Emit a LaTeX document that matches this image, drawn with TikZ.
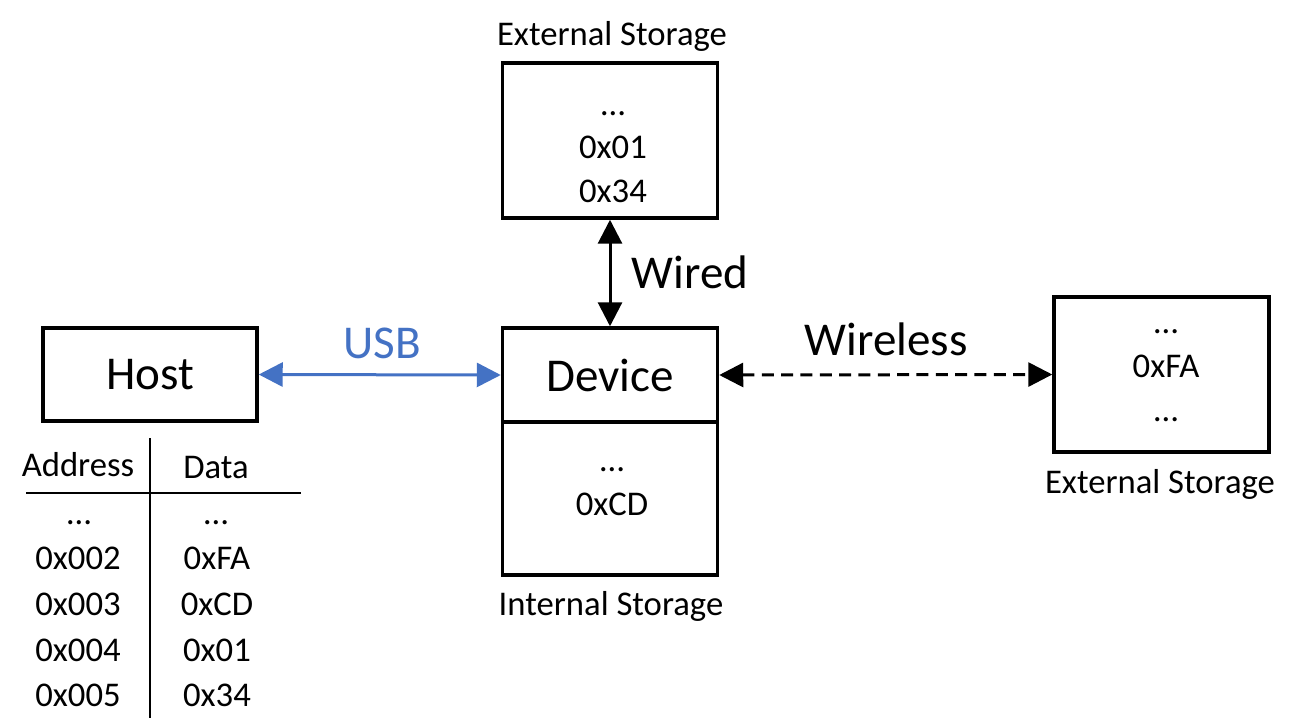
\documentclass[tikz,border=0pt]{standalone}
\usepackage{fontspec}
\setmainfont{Carlito}
\usetikzlibrary{arrows.meta}
\definecolor{usbblue}{HTML}{4472C4}
\begin{document}
\begin{tikzpicture}[x=0.75pt,y=-0.75pt,
  box/.style={draw, line width=2.6pt, inner sep=0pt, minimum width=161.25pt},
  big/.style={font=\fontsize{35.3pt}{42pt}\selectfont},
  small/.style={font=\fontsize{26pt}{31pt}\selectfont, inner sep=0pt, anchor=base},
  conn/.style={line width=2.25pt, {Triangle[length=18pt,width=18pt]}-{Triangle[length=18pt,width=18pt]}},
  tab/.style={line width=1.5pt}]
\useasboundingbox (0,0) rectangle (1306,718);

% boxes
\node[box, big, minimum width=160.5pt, minimum height=69.75pt] (host) at (150,374.5) {Host};
\node[box, big, minimum height=70.5pt] (dev) at (610,375) {Device};
\node[box, minimum height=114.75pt] (int) at (610,498.5) {};
\node[box, minimum height=116.25pt] (ext1) at (610,140.5) {};
\node[box, minimum height=116.25pt] (ext2) at (1161.5,374.5) {};

% connectors
\draw[conn, usbblue] (host.east) -- (dev.west);
\draw[conn] (ext1.south) -- (dev.north);
\draw[conn, dash pattern=on 9pt off 5.5pt] (dev.east) -- (ext2.west);

% connector labels
\node[big, anchor=base, text=usbblue] (usb) at (382,358) {USB};
\node[big, anchor=base] (wired) at (690,288) {Wired};
\node[big, anchor=base] (wl) at (886,355) {Wireless};

% box captions
\node[small] (capext1) at (612,45) {External Storage};
\node[small] (capext2) at (1160,493) {External Storage};
\node[small] (capint) at (611,615) {Internal Storage};

% top external storage contents
\node[small] (e1a) at (613,115) {…};
\node[small] (e1b) at (613,158.5) {0x01};
\node[small] (e1c) at (613,202.5) {0x34};

% internal storage contents
\node[small] (ia) at (612,471) {…};
\node[small] (ib) at (612,515) {0xCD};

% right external storage contents
\node[small] (e2a) at (1166,333) {…};
\node[small] (e2b) at (1166,377) {0xFA};
\node[small] (e2c) at (1166,421) {…};

% table
\coordinate (vt) at (150,438);
\coordinate (vb) at (150,718);
\coordinate (hl) at (26,493);
\coordinate (hr) at (301,493);
\draw[tab] (vt) -- (vb);
\draw[tab] (hl) -- (hr);

\node[small] (th1) at (78,476) {Address};
\node[small] (th2) at (216,478) {Data};

\node[small] (a0) at (79,524) {…};
\node[small] (a1) at (78,569) {0x002};
\node[small] (a2) at (78,615) {0x003};
\node[small] (a3) at (78,661) {0x004};
\node[small] (a4) at (78,706) {0x005};

\node[small] (d0) at (216,524) {…};
\node[small] (d1) at (217,569) {0xFA};
\node[small] (d2) at (217,615) {0xCD};
\node[small] (d3) at (217,661) {0x01};
\node[small] (d4) at (217,706) {0x34};
\end{tikzpicture}
\end{document}
